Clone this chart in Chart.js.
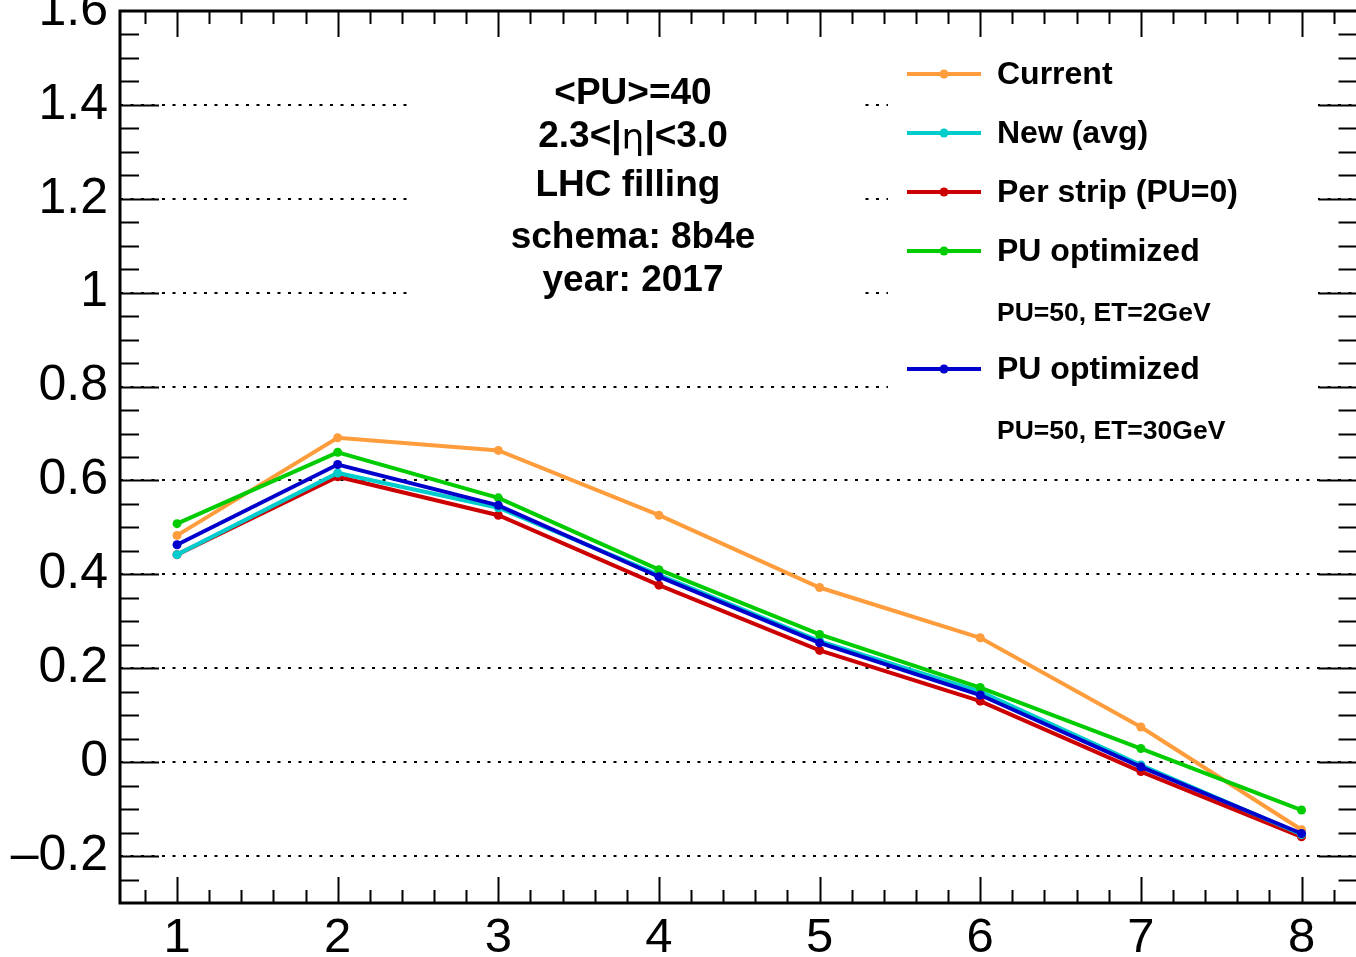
<!DOCTYPE html>
<html>
<head>
<meta charset="utf-8">
<script src="https://cdn.jsdelivr.net/npm/chart.js@4.4.0/dist/chart.umd.min.js"></script>
<style>
  html, body { margin: 0; padding: 0; background: #fff; overflow: hidden; }
  canvas { display: block; }
</style>
</head>
<body>
<canvas id="c" width="1360" height="957"></canvas>
<script>
// eta bins on the x axis
const etaBins = [1, 2, 3, 4, 5, 6, 7, 8];

// series values
const current  = [0.483, 0.691, 0.664, 0.526, 0.372, 0.265, 0.075, -0.144];
const newAvg   = [0.442, 0.616, 0.542, 0.399, 0.258, 0.150, -0.006, -0.154];
const perStrip = [0.442, 0.608, 0.526, 0.377, 0.238, 0.130, -0.020, -0.159];
const puOpt2   = [0.508, 0.660, 0.563, 0.410, 0.272, 0.159, 0.029, -0.102];
const puOpt30  = [0.463, 0.634, 0.547, 0.395, 0.254, 0.143, -0.010, -0.152];

const seriesNames = ['Current', 'New (avg)', 'Per strip (PU=0)', 'PU optimized', 'PU optimized'];
const seriesNotes = [null, null, null, 'PU=50, ET=2GeV', 'PU=50, ET=30GeV'];
const seriesColors = ['#ff9c3c', '#00cccc', '#cc0000', '#00cc00', '#0000cc'];
const drawOrder = [4, 2, 3, 1, 0]; // lower = drawn on top (blue last)

const infoLines = ['<PU>=40', '2.3<|η|<3.0', 'LHC filling ', 'schema: 8b4e', 'year: 2017'];

const yMin = -0.3, yMax = 1.6, yStep = 0.2, yMinor = 0.05;
const xMin = 0.645, xMax = 8.336, xMinor = 0.2;

const FONT = '"Liberation Sans", Arial, Helvetica, sans-serif';

const allSeries = [current, newAvg, perStrip, puOpt2, puOpt30];
const datasets = allSeries.map((vals, i) => ({
  label: seriesNames[i],
  data: etaBins.map((x, j) => ({ x, y: vals[j] })),
  borderColor: seriesColors[i],
  backgroundColor: seriesColors[i],
  borderWidth: 4,
  pointRadius: 4.5,
  pointBorderWidth: 0,
  tension: 0,
  order: drawOrder[i],
}));

function fmtY(v) {
  const r = Math.round(v * 10) / 10;
  if (Math.abs(r) < 1e-9) return '0';
  return (r < 0 ? '\u2013' : '') + String(Math.abs(r));
}

// boxes, annotation text and legend, drawn over the grid but under the lines
const overlay = {
  id: 'overlay',
  beforeDatasetsDraw(chart) {
    const ctx = chart.ctx;
    ctx.save();
    ctx.fillStyle = '#fff';
    ctx.fillRect(408, 55, 452, 255);
    ctx.fillRect(888, 45, 430, 410);

    // info text block
    ctx.fillStyle = '#000';
    ctx.textAlign = 'center';
    ctx.textBaseline = 'middle';
    const infoY = [94, 137, 186, 238, 281];
    const fb = 'bold 37px ' + FONT, fn = '36px "DejaVu Sans", ' + FONT;
    infoLines.forEach((t, i) => {
      if (t.includes('η')) {
        const parts = t.split('η');
        ctx.font = fb; const w0 = ctx.measureText(parts[0]).width, w2 = ctx.measureText(parts[1]).width;
        ctx.font = fn; const w1 = ctx.measureText('η').width;
        let x = 633 - (w0 + w1 + w2) / 2;
        ctx.textAlign = 'left';
        ctx.font = fb; ctx.fillText(parts[0], x, infoY[i]); x += w0;
        ctx.font = fn; ctx.fillText('η', x, infoY[i] + 3); x += w1;
        ctx.font = fb; ctx.fillText(parts[1], x, infoY[i]);
        ctx.textAlign = 'center';
      } else {
        ctx.font = fb;
        ctx.fillText(t, 633, infoY[i]);
      }
    });

    // legend
    ctx.textAlign = 'left';
    let y = 74;
    seriesNames.forEach((name, i) => {
      ctx.strokeStyle = seriesColors[i];
      ctx.fillStyle = seriesColors[i];
      ctx.lineWidth = 4;
      ctx.beginPath(); ctx.moveTo(907, y); ctx.lineTo(981, y); ctx.stroke();
      ctx.beginPath(); ctx.arc(944, y, 4.5, 0, Math.PI * 2); ctx.fill();
      ctx.fillStyle = '#000';
      ctx.font = 'bold 32px ' + FONT;
      ctx.fillText(name, 997, y + 1);
      if (seriesNotes[i]) {
        y += 62;
        ctx.font = 'bold 26.5px ' + FONT;
        ctx.fillText(seriesNotes[i], 997, y + 1);
        y += 56;
      } else {
        y += 59;
      }
    });
    ctx.restore();
  },
  afterDatasetsDraw(chart) {
    const ctx = chart.ctx, a = chart.chartArea;
    const xs = chart.scales.x, ys = chart.scales.y;
    ctx.save();
    ctx.strokeStyle = '#000';
    ctx.lineWidth = 2;
    ctx.beginPath();
    // y ticks, left and right
    for (let k = Math.ceil(yMin / yMinor); k * yMinor <= yMax + 1e-9; k++) {
      const v = k * yMinor;
      if (v <= yMin + 1e-9 || v >= yMax - 1e-9) continue;
      const major = Math.abs(v / yStep - Math.round(v / yStep)) < 1e-6;
      const py = Math.round(ys.getPixelForValue(v)) + 0.5;
      const len = major ? 39 : 19;
      ctx.moveTo(a.left, py); ctx.lineTo(a.left + len, py);
      ctx.moveTo(a.right + 2, py); ctx.lineTo(a.right + 2 - len, py);
    }
    // x ticks, bottom and top
    for (let k = Math.ceil(xMin / xMinor); k * xMinor <= xMax; k++) {
      const v = k * xMinor;
      const major = Math.abs(v - Math.round(v)) < 1e-6;
      const px = Math.round(xs.getPixelForValue(v)) + 0.5;
      const len = major ? 26 : 13;
      ctx.moveTo(px, a.bottom); ctx.lineTo(px, a.bottom - len);
      ctx.moveTo(px, a.top); ctx.lineTo(px, a.top + len);
    }
    ctx.stroke();
    // frame
    ctx.lineWidth = 3;
    ctx.strokeRect(a.left, a.top, a.right + 2 - a.left, a.bottom - a.top);
    ctx.restore();
  }
};

new Chart(document.getElementById('c'), {
  type: 'line',
  data: { datasets },
  options: {
    responsive: false,
    devicePixelRatio: 1,
    animation: false,
    layout: { padding: { top: 11, left: 0, right: 0, bottom: 0 } },
    plugins: { legend: { display: false }, tooltip: { enabled: false } },
    scales: {
      x: {
        type: 'linear',
        min: xMin, max: xMax,
        border: { display: false },
        grid: { display: false, drawTicks: false },
        ticks: {
          stepSize: 1, includeBounds: false, padding: 6,
          color: '#000', font: { family: FONT, size: 49 },
          callback: v => (etaBins.includes(v) ? String(v) : ''),
        },
        afterFit: s => { s.height = 54; s.paddingLeft = 0; s.paddingRight = 0; },
      },
      y: {
        type: 'linear',
        min: yMin, max: yMax,
        border: { display: false, dash: [3, 7.5] },
        grid: {
          drawTicks: false, tickLength: 0,
          color: '#000', lineWidth: 2,
        },
        ticks: {
          stepSize: yStep, includeBounds: false, padding: 12,
          color: '#000', font: { family: FONT, size: 50 },
          callback: v => fmtY(v),
        },
        afterFit: s => { s.width = 120; s.paddingTop = 0; s.paddingBottom = 0; },
      },
    },
  },
  plugins: [overlay],
});
</script>
</body>
</html>
